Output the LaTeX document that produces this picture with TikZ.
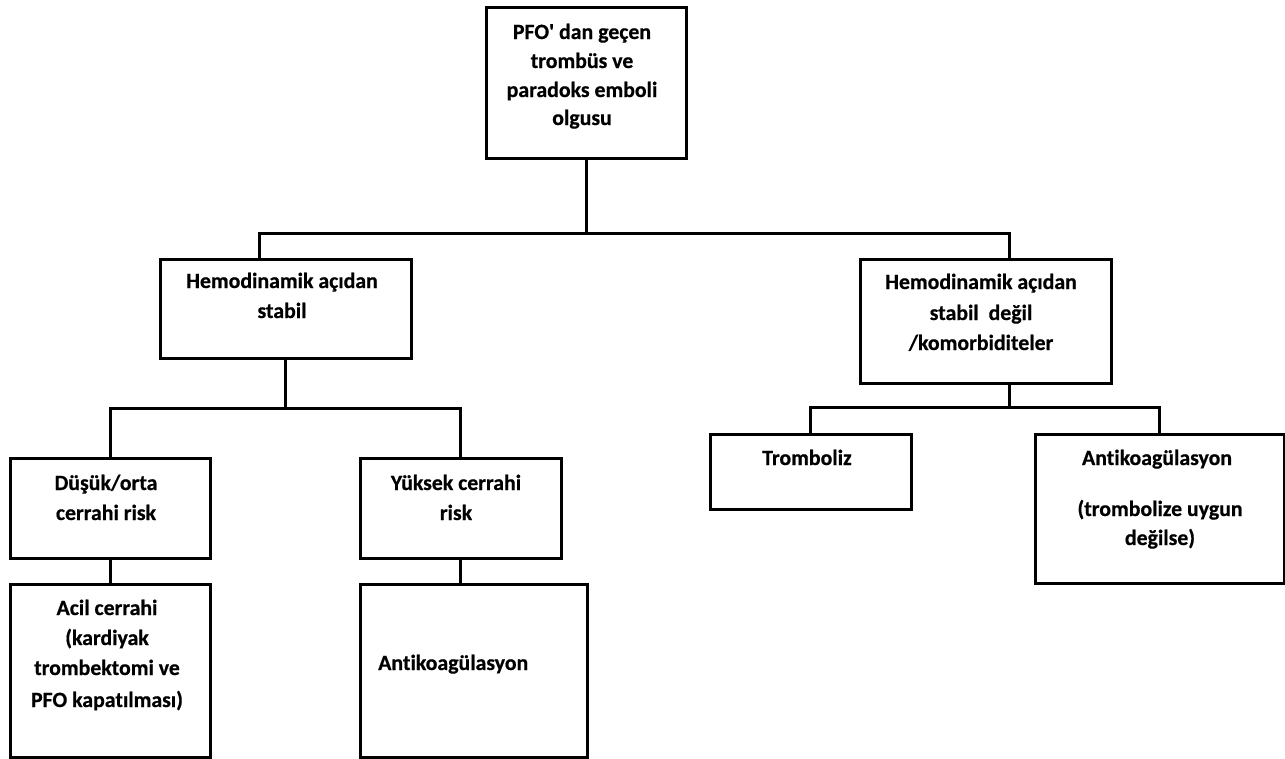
\documentclass[tikz,border=0pt]{standalone}
\usepackage{fontspec}
\setmainfont{Carlito}[Ligatures=NoCommon, BoldFeatures={FakeBold=0.6}]
\tikzset{
  box/.style={draw=black, line width=2.8pt, fill=none, inner sep=0pt, anchor=north west},
  conn/.style={draw=black, line width=3pt},
  txt/.style={font=\bfseries\fontsize{21.8}{25}\selectfont, inner sep=0pt, anchor=base, text=black}
}
\begin{document}
\begin{tikzpicture}[x=1pt,y=-1pt]
\useasboundingbox (0,0) rectangle (1285,758);
% boxes
\node[box, minimum width=200pt, minimum height=151pt] (top) at (485,6) {};
\node[box, minimum width=251pt, minimum height=99pt] (lm) at (159,258) {};
\node[box, minimum width=251pt, minimum height=124pt] (rm) at (859,258) {};
\node[box, minimum width=200pt, minimum height=100pt] (dusuk) at (9,457) {};
\node[box, minimum width=201pt, minimum height=100pt] (yuksek) at (359,457) {};
\node[box, minimum width=201pt, minimum height=75pt] (trom) at (709,433) {};
\node[box, minimum width=249pt, minimum height=149pt] (antiR) at (1034,433) {};
\node[box, minimum width=200pt, minimum height=173pt] (acil) at (9,583) {};
\node[box, minimum width=227pt, minimum height=173pt] (antiL) at (359,583) {};
% texts
\node[txt] (t1a) at (582,39) {PFO\textquotesingle{} dan geçen};
\node[txt] (t1b) at (582,68) {trombüs ve};
\node[txt] (t1c) at (582,97) {paradoks emboli};
\node[txt] (t1d) at (582,125) {olgusu};
\node[txt] (t2a) at (282,288) {Hemodinamik açıdan};
\node[txt] (t2b) at (282,318) {stabil};
\node[txt] (t3a) at (981,289) {Hemodinamik açıdan};
\node[txt] (t3b) at (981,320) {stabil\ \ değil};
\node[txt] (t3c) at (981,350) {/komorbiditeler};
\node[txt] (t4a) at (106,490) {Düşük/orta};
\node[txt] (t4b) at (106,520) {cerrahi risk};
\node[txt] (t5a) at (456,490) {Yüksek cerrahi};
\node[txt] (t5b) at (456,520) {risk};
\node[txt] (t6a) at (807,465) {Tromboliz};
\node[txt] (t7a) at (1157,465) {Antikoagülasyon};
\node[txt] (t7b) at (1160,516) {(trombolize uygun};
\node[txt] (t7c) at (1160,545) {değilse)};
\node[txt] (t8a) at (107,615) {Acil cerrahi};
\node[txt] (t8b) at (107,645) {(kardiyak};
\node[txt] (t8c) at (107,675) {trombektomi ve};
\node[txt] (t8d) at (107,707) {PFO kapatılması)};
\node[txt, anchor=base west] (t9a) at (378,670) {Antikoagülasyon};
% connectors
\coordinate (j1L) at (259,233);
\coordinate (j1R) at (1009,233);
\coordinate (j2) at (285,408);
\coordinate (j3) at (1009,407);
\draw[conn] (top.south) -- (top.south |- j1L);
\draw[conn] (lm.north -| j1L) -- (j1L) -- (j1R) -- (rm.north -| j1R);
\draw[conn] (lm.south -| j2) -- (j2);
\draw[conn] (dusuk.north) |- (j2) -| (yuksek.north);
\draw[conn] (rm.south -| j3) -- (j3);
\draw[conn] (trom.north) |- (j3) -| (antiR.north);
\draw[conn] (dusuk.south) -- (dusuk.south |- acil.north);
\draw[conn] (yuksek.south) -- (yuksek.south |- antiL.north);
\end{tikzpicture}
\end{document}
